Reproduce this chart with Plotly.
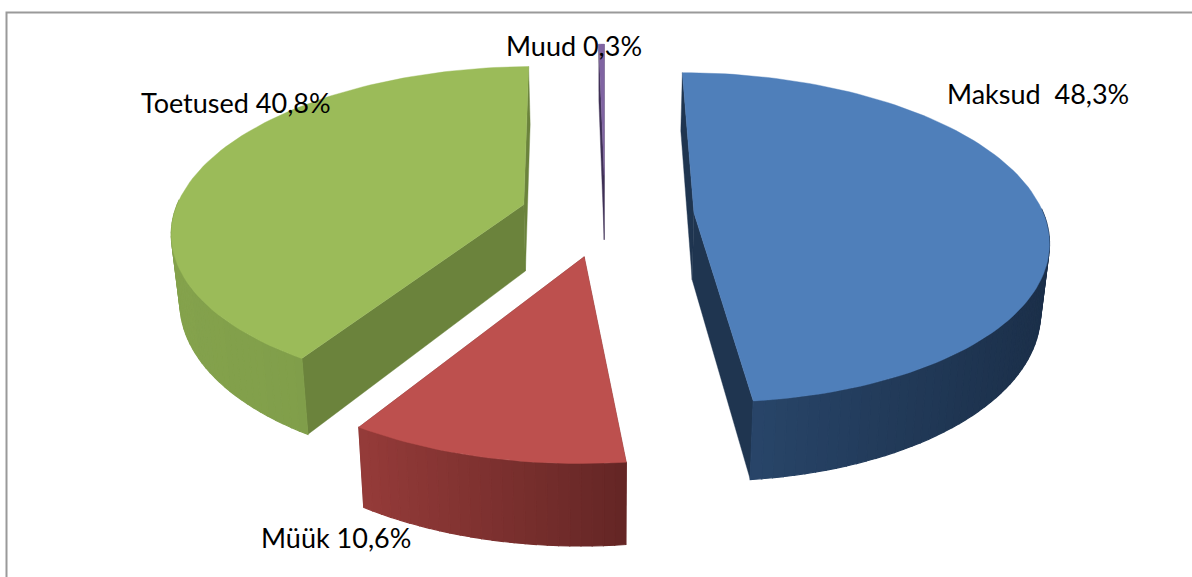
import math
import plotly.graph_objects as go

# Data
labels = ["Maksud", "Müük", "Toetused", "Muud"]
values = [48.3, 10.6, 40.8, 0.3]
label_text = ["Maksud\u00a0\u00a048,3%", "Müük 10,6%", "Toetused 40,8%", "Muud 0,3%"]

# Style
top_colors = ["#4f7fba", "#bd504e", "#9bbb59", "#8064a2"]
face_colors = ["#1f3550", "#7a302e", "#6b833c", "#3e2f55"]
side_left = ["#2b4a70", "#953b39", "#84a24c", "#3e2f55"]
side_right = ["#1b2f49", "#642625", "#7a9847", "#3e2f55"]
label_x = [947, 261, 141, 506]
label_y = [97, 541, 106, 49]
explode = [0.255, 0.255, 0.243, 0.255]

# Projection of the tilted 3D pie onto the page
CX, CY, RX, RY, PERSP, DEPTH, SHRINK = 605, 215, 350, 161.8, 0.15, 67, 0.02
STEPS = 110


def project(px, py, drop=0.0):
    s = 1 / (1 + PERSP * py)
    return CX + RX * px * s * (1 - SHRINK * drop), CY - RY * py * s + drop * DEPTH * s


def lerp(c1, c2, t):
    a = [int(c1[i:i + 2], 16) for i in (1, 3, 5)]
    b = [int(c2[i:i + 2], 16) for i in (1, 3, 5)]
    return "#" + "".join(f"{round(u + (v - u) * t):02x}" for u, v in zip(a, b))


def poly(points, color, width=0.4):
    xs = [p[0] for p in points] + [points[0][0]]
    ys = [p[1] for p in points] + [points[0][1]]
    return go.Scatter(x=xs, y=ys, mode="lines", fill="toself", fillcolor=color,
                      line=dict(color=color, width=width), hoverinfo="skip", showlegend=False)


fig = go.Figure()
total = sum(values)
spans = []
start = 0.0
for v in values:
    spans.append((start, start + v / total * 2 * math.pi))
    start = spans[-1][1]

for i in [3, 2, 0, 1]:
    a0, a1 = spans[i]
    mid = (a0 + a1) / 2
    ox, oy = explode[i] * math.sin(mid), explode[i] * math.cos(mid)
    n = max(2, int(STEPS * (a1 - a0) / math.pi) + 2)
    angles = [a0 + (a1 - a0) * k / n for k in range(n + 1)]
    rim = [(ox + math.sin(a), oy + math.cos(a)) for a in angles]

    # cut faces
    for end in (rim[0], rim[-1]):
        fig.add_trace(poly([project(ox, oy), project(*end), project(*end, 1), project(ox, oy, 1)],
                           face_colors[i]))
    # curved outer wall, shaded left to right; each strip is drawn over the seam of the last
    xs_top = [project(*p)[0] for p in rim]
    lo, hi = min(xs_top), max(xs_top)
    for k in range(n):
        if rim[k][1] - oy > 0.02 and rim[k + 1][1] - oy > 0.02:
            continue
        t = ((xs_top[k] + xs_top[k + 1]) / 2 - lo) / max(hi - lo, 1)
        fig.add_trace(poly([project(*rim[k]), project(*rim[k + 1]),
                            project(*rim[k + 1], 1), project(*rim[k], 1)],
                           lerp(side_left[i], side_right[i], t), width=1.2))
    # top
    fig.add_trace(poly([project(ox, oy)] + [project(*p) for p in rim], top_colors[i]))

fig.add_trace(go.Scatter(x=label_x, y=label_y, text=label_text, mode="text",
                         textposition="middle right",
                         textfont=dict(family="Lato", size=27, color="#000000"),
                         hoverinfo="skip", showlegend=False))

fig.update_layout(
    width=1192, height=577, margin=dict(l=0, r=0, t=0, b=0),
    paper_bgcolor="#ffffff", plot_bgcolor="#ffffff",
    xaxis=dict(range=[0, 1192], visible=False, fixedrange=True),
    yaxis=dict(range=[577, 0], visible=False, fixedrange=True),
    shapes=[dict(type="rect", xref="x", yref="y", x0=6.5, y0=12.5, x1=1215, y1=600,
                 line=dict(color="#9a9a9a", width=2), layer="below")],
)
# Remove the page's default margin so the figure fills the window.
fig.write_html("out.html", config=dict(displayModeBar=False),
               post_script="document.body.style.margin='0';document.body.style.overflow='hidden';")
